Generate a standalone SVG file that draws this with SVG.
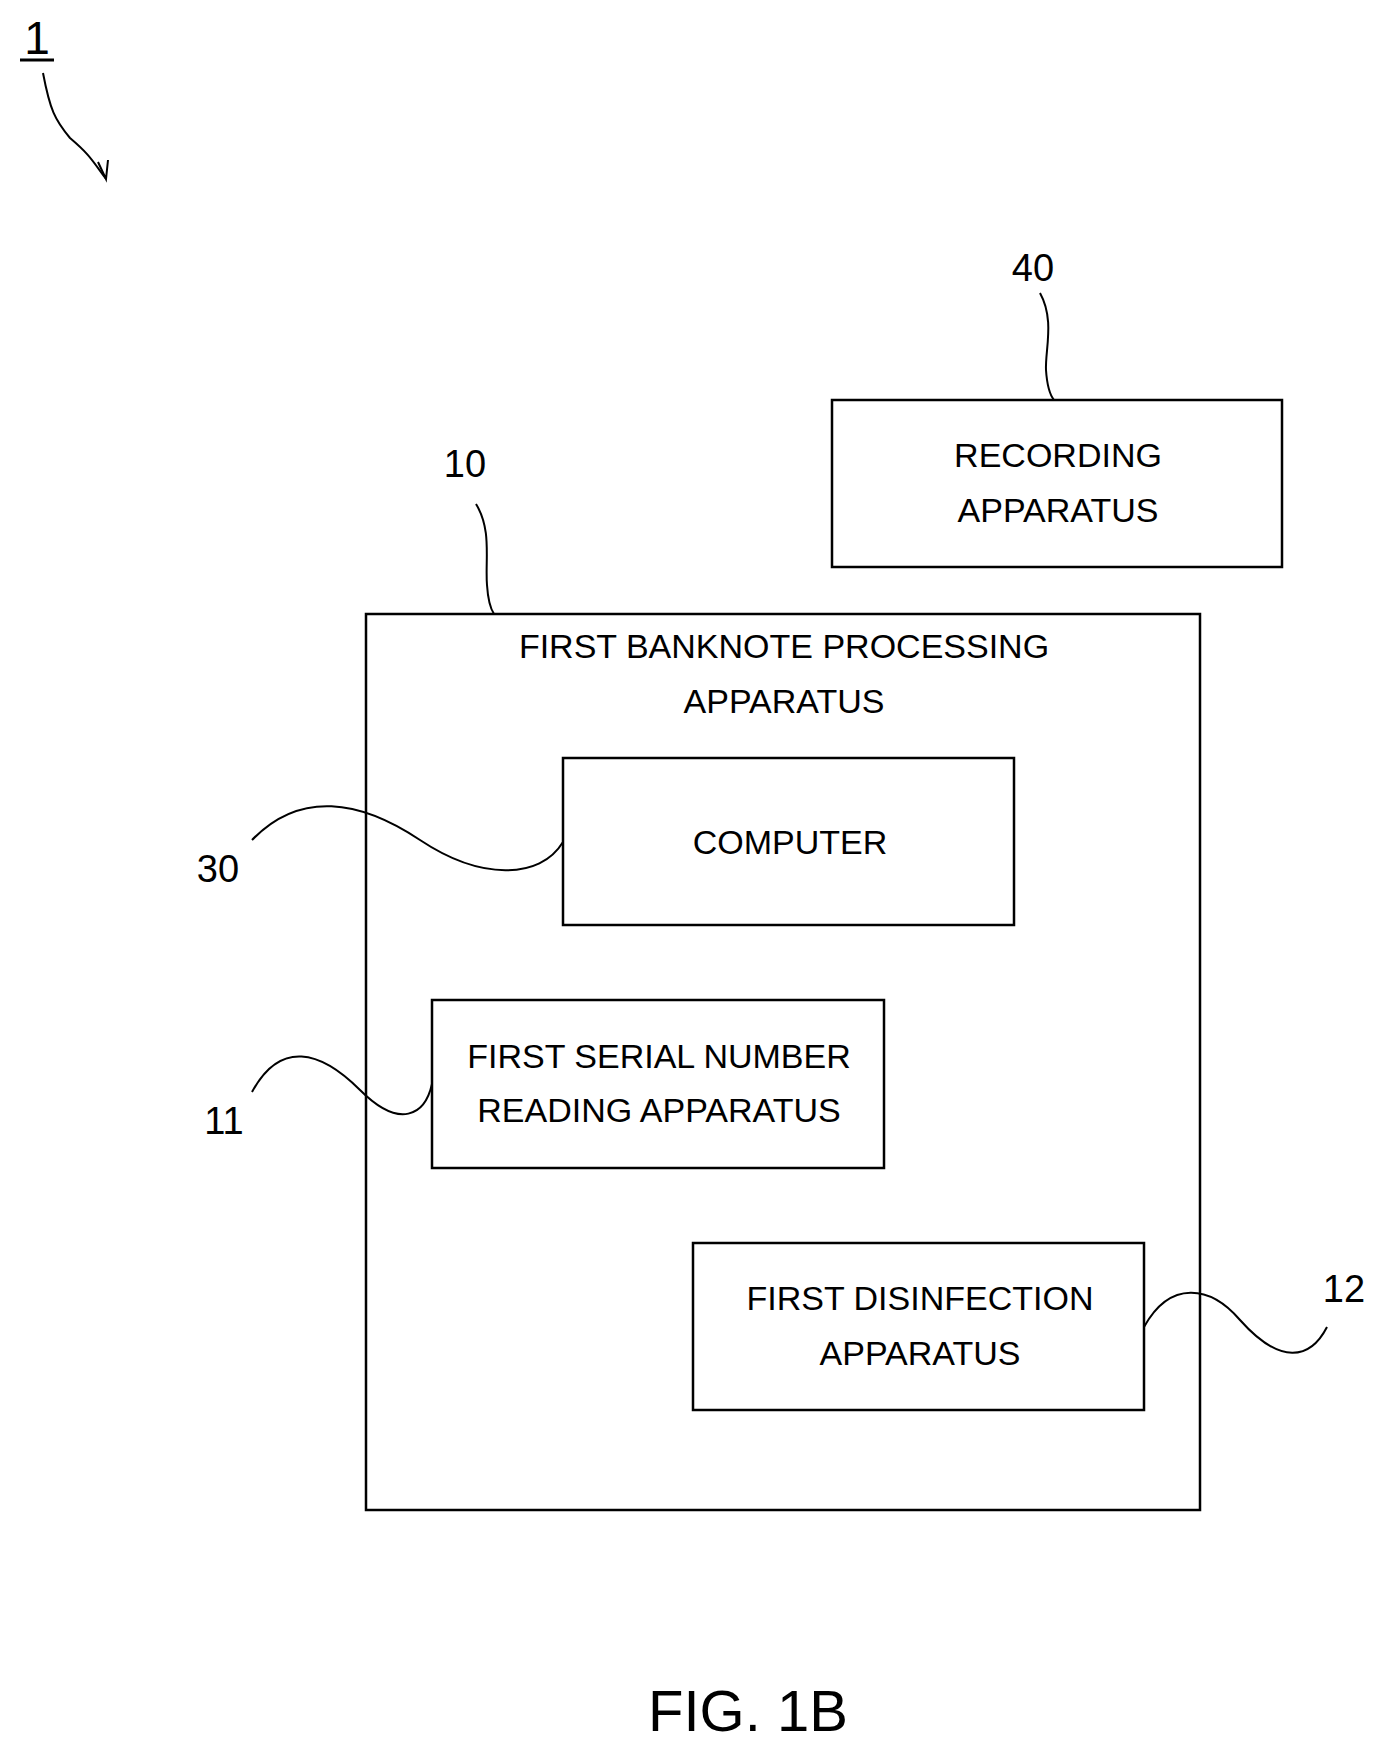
<svg xmlns="http://www.w3.org/2000/svg" width="1388" height="1760" viewBox="0 0 1388 1760">
<style>
text{font-family:"Liberation Sans",Arial,sans-serif;fill:#000;text-anchor:middle}
.t{font-size:34px}
.n{font-size:38px}
.box{fill:#fff;stroke:#000;stroke-width:2.5}
.ld{fill:none;stroke:#000;stroke-width:2}
</style>
<rect width="1388" height="1760" fill="#fff"/>
<g id="ref1">
<text x="37" y="54" style="font-size:46px">1</text>
<line x1="20" y1="60" x2="54" y2="60" stroke="#000" stroke-width="3"/>
</g>
<g id="n10">
<rect class="box" x="366" y="614" width="834" height="896"/>
<text class="t" x="784" y="658">FIRST BANKNOTE PROCESSING</text>
<text class="t" x="784" y="713">APPARATUS</text>
<text class="n" x="465" y="477">10</text>
</g>
<g id="n40">
<rect class="box" x="832" y="400" width="450" height="167"/>
<text class="t" x="1058" y="467">RECORDING</text>
<text class="t" x="1058" y="522">APPARATUS</text>
<text class="n" x="1033" y="281">40</text>
</g>
<g id="n30">
<rect class="box" x="563" y="758" width="451" height="167"/>
<text class="t" x="790" y="854">COMPUTER</text>
<text class="n" x="218" y="882">30</text>
</g>
<g id="n11">
<rect class="box" x="432" y="1000" width="452" height="168"/>
<text class="t" x="659" y="1068">FIRST SERIAL NUMBER</text>
<text class="t" x="659" y="1122">READING APPARATUS</text>
<text class="n" x="224" y="1134">11</text>
</g>
<g id="n12">
<rect class="box" x="693" y="1243" width="451" height="167"/>
<text class="t" x="920" y="1310">FIRST DISINFECTION</text>
<text class="t" x="920" y="1365">APPARATUS</text>
<text class="n" x="1344" y="1302">12</text>
</g>
<g id="connectors">
<path class="ld" d="M43,73 C50,110 55,120 70,138 C90,155 92,160 106,179"/>
<path class="ld" d="M98,162 L106,179 L108,160"/>
<path class="ld" d="M1040,293 C1055,320 1045,350 1046,370 C1047,385 1050,395 1054,400"/>
<path class="ld" d="M476,504 C492,530 485,560 487,585 C488,600 490,608 494,614"/>
<path class="ld" d="M252,840 C300,790 360,800 420,840 C480,880 540,880 563,842"/>
<path class="ld" d="M252,1092 C280,1040 320,1050 360,1090 C400,1130 425,1115 432,1084"/>
<path class="ld" d="M1144,1327 C1170,1280 1210,1285 1240,1320 C1280,1365 1310,1360 1327,1327"/>
</g>
<text x="748" y="1731" style="font-size:58px">FIG. 1B</text>
</svg>
